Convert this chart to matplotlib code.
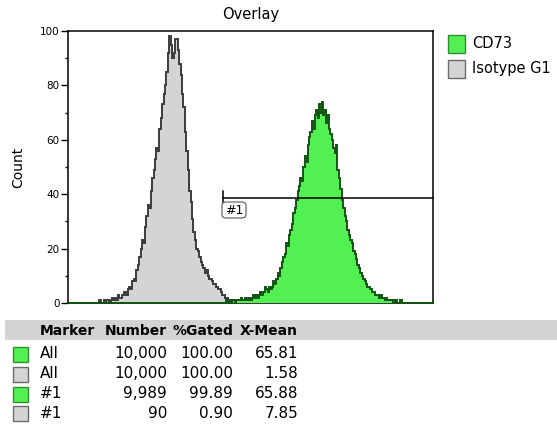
import numpy as np
import matplotlib
matplotlib.use("Agg")
import matplotlib.pyplot as plt
from matplotlib.patches import Rectangle, FancyBboxPatch

# ---------------------------------------------------------------------------
# Data (counts per channel, 256 channels)
# ---------------------------------------------------------------------------
N_CHANNELS = 256

iso_first_channel = 20
iso_counts = [
    0, 0, 1, 0, 0, 1, 0, 1, 1, 0,
    1, 2, 1, 2, 1, 3, 2, 2, 3, 4,
    4, 3, 5, 6, 5, 8, 9, 8, 12, 14,
    17, 20, 23, 22, 28, 32, 36, 35, 41, 46,
    49, 53, 57, 56, 64, 68, 73, 77, 80, 85,
    92, 98, 95, 90, 92, 97, 97, 93, 88, 84,
    77, 72, 63, 56, 49, 41, 37, 31, 26, 23,
    20, 19, 17, 15, 14, 13, 11, 12, 10, 9,
    9, 8, 7, 7, 6, 5, 5, 4, 3, 3,
    2, 2, 1, 1, 1, 0, 1, 0, 0, 0,
]

cd73_first_channel = 110
cd73_counts = [
    0, 1, 0, 1, 0, 1, 1, 0, 1, 1,
    1, 2, 1, 1, 2, 1, 2, 2, 1, 2,
    3, 2, 3, 2, 3, 4, 3, 4, 6, 5,
    4, 6, 5, 6, 8, 7, 9, 11, 10, 13,
    15, 17, 18, 22, 21, 25, 27, 29, 33, 35,
    38, 41, 43, 46, 45, 50, 54, 52, 58, 61,
    63, 67, 64, 69, 71, 68, 73, 70, 74, 69,
    71, 66, 69, 64, 62, 60, 57, 55, 58, 49,
    46, 42, 38, 35, 32, 30, 27, 25, 23, 22,
    19, 18, 16, 14, 13, 11, 10, 9, 8, 7,
    6, 6, 5, 4, 4, 3, 3, 3, 2, 3,
    2, 2, 1, 2, 1, 1, 1, 1, 0, 1,
    1, 0, 0, 1, 0, 0, 0, 0, 0, 0,
]

# marker #1 (start channel and drawn height)
marker_start = 109
marker_level = 38.5

legend_labels = ["CD73", "Isotype G1"]

table_header = ["Marker", "Number", "%Gated", "X-Mean"]
table_marker = ["All", "All", "#1", "#1"]
table_number = ["10,000", "10,000", "9,989", "90"]
table_gated = ["100.00", "100.00", "99.89", "0.90"]
table_xmean = ["65.81", "1.58", "65.88", "7.85"]
table_series = ["cd73", "iso", "cd73", "iso"]

# ---------------------------------------------------------------------------
# Styles
# ---------------------------------------------------------------------------
GREEN_FILL = "#52f052"
GREEN_EDGE = "#125512"
GRAY_FILL = "#d4d4d4"
GRAY_EDGE = "#3c3c3c"
FILLS = {"cd73": GREEN_FILL, "iso": GRAY_FILL}
EDGES = {"cd73": "#2f8f2f", "iso": "#6a6a6a"}

W, H = 557, 430


def full_series(first, counts):
    arr = np.zeros(N_CHANNELS)
    arr[first:first + len(counts)] = counts
    return arr


def px(x, y):
    """pixel (from top-left) -> figure fraction"""
    return x / W, 1 - y / H


iso = full_series(iso_first_channel, iso_counts)
cd73 = full_series(cd73_first_channel, cd73_counts)
edges = np.arange(N_CHANNELS + 1)

fig = plt.figure(figsize=(W / 100, H / 100), dpi=100)
ax = fig.add_axes([68 / W, 1 - 303 / H, 365 / W, 272 / H])

ax.stairs(iso, edges, fill=True, color=GRAY_FILL, zorder=1)
ax.stairs(iso, edges, color=GRAY_EDGE, lw=1.4, zorder=2)
ax.stairs(cd73, edges, fill=True, color=GREEN_FILL, zorder=3)
ax.stairs(cd73, edges, color=GREEN_EDGE, lw=1.4, zorder=4, clip_on=False)

# marker #1
ax.plot([marker_start, N_CHANNELS], [marker_level, marker_level],
        color="black", lw=1.1, zorder=5, clip_on=False)
ax.plot([marker_start, marker_start], [marker_level - 1.5, marker_level + 2.5],
        color="black", lw=1.1, zorder=5)
bx0, by0 = px(222, 218)
bx1, by1 = px(246, 202)
fig.patches.append(FancyBboxPatch((bx0, by0), bx1 - bx0, by1 - by0,
                                  boxstyle="round,pad=0,rounding_size=0.008",
                                  transform=fig.transFigure, facecolor="white",
                                  edgecolor="#555555", lw=0.8))
fig.text(*px(234, 210), "#1", ha="center", va="center", fontsize=9)

ax.set_xlim(0, N_CHANNELS)
ax.set_ylim(0, 100)
ax.set_xticks([])
ax.set_yticks([0, 20, 40, 60, 80, 100])
ax.set_yticks([10, 30, 50, 70, 90], minor=True)
ax.tick_params(axis="y", which="major", length=5, width=1, labelsize=7.5, pad=1)
ax.tick_params(axis="y", which="minor", length=2.5, width=1)
for s in ax.spines.values():
    s.set_linewidth(1.1)

fig.text(*px(251, 15), "Overlay", ha="center", va="center", fontsize=10.5)
fig.text(*px(18, 167), "Count", ha="center", va="center", rotation=90, fontsize=10)

# legend
for i, (lab, key) in enumerate(zip(legend_labels, ["cd73", "iso"])):
    top = 35 + i * 25
    x0, y0 = px(448, top + 18)
    fig.patches.append(Rectangle((x0, y0), 17 / W, 18 / H, transform=fig.transFigure,
                                 facecolor=FILLS[key], edgecolor=EDGES[key], lw=1))
    fig.text(*px(472, top + 9), lab, ha="left", va="center", fontsize=10.5)

# statistics table
hx, hy = px(5, 340)
fig.patches.append(Rectangle((hx, hy), 552 / W, 20 / H, transform=fig.transFigure,
                             facecolor="#d3d3d3", edgecolor="none"))
fig.text(*px(40, 331), table_header[0], ha="left", va="center",
         fontsize=10, fontweight="bold")
for lab, right in zip(table_header[1:], [167, 233, 298]):
    fig.text(*px(right, 331), lab, ha="right", va="center",
             fontsize=10, fontweight="bold")

row_y = [354, 374, 394, 413.5]
for i, y in enumerate(row_y):
    key = table_series[i]
    x0, y0 = px(13, y + 7.5)
    fig.patches.append(Rectangle((x0, y0), 15 / W, 15 / H, transform=fig.transFigure,
                                 facecolor=FILLS[key], edgecolor=EDGES[key], lw=1))
    fig.text(*px(40, y), table_marker[i], ha="left", va="center", fontsize=11)
    fig.text(*px(167, y), table_number[i], ha="right", va="center", fontsize=11)
    fig.text(*px(233, y), table_gated[i], ha="right", va="center", fontsize=11)
    fig.text(*px(298, y), table_xmean[i], ha="right", va="center", fontsize=11)

fig.savefig("out.png", dpi=100)
